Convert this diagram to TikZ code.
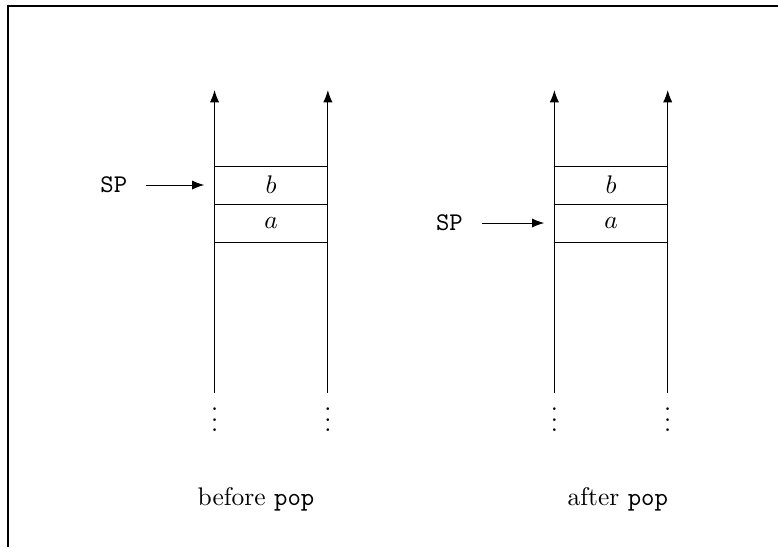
\documentclass[tikz,border=0pt]{standalone}
\usetikzlibrary{arrows.meta,positioning}
\begin{document}
\begin{tikzpicture}[>=Latex,
 cell/.style={draw,minimum width=1.563cm,minimum height=0.524cm,inner sep=0pt,outer sep=0pt},
 reg/.style={font=\ttfamily},
 ptr/.style={->,shorten <=4pt,shorten >=4pt},
 dots/.style={inner sep=0pt}]
\useasboundingbox (0,0) rectangle (10.73,7.545);
\draw[line width=0.8pt] (0.11,0) -- (0.11,7.462) -- (10.73,7.462);
% stack before pop
\node[cell] (b1) at (3.740,4.993) {$b$};
\node[cell,anchor=north] (a1) at (b1.south) {$a$};
\coordinate (l1bot) at (2.959,2.128); \coordinate (l1top) at (2.959,6.303);
\coordinate (r1bot) at (4.522,2.128); \coordinate (r1top) at (4.522,6.303);
\draw[->] (l1bot) -- (l1top); \draw[->] (r1bot) -- (r1top);
\node[dots] (dl1) at (2.959,1.86) {$\vdots$};
\node[dots] (dr1) at (4.522,1.86) {$\vdots$};
\node[reg,left=1.08cm of b1] (sp1) {SP};
\draw[ptr] (sp1) -- (b1);
\node (cap1) at (3.531,0.655) {before \texttt{pop}};
% stack after pop
\node[cell] (b2) at (8.428,4.993) {$b$};
\node[cell,anchor=north] (a2) at (b2.south) {$a$};
\coordinate (l2bot) at (7.646,2.128); \coordinate (l2top) at (7.646,6.303);
\coordinate (r2bot) at (9.209,2.128); \coordinate (r2top) at (9.209,6.303);
\draw[->] (l2bot) -- (l2top); \draw[->] (r2bot) -- (r2top);
\node[dots] (dl2) at (7.646,1.86) {$\vdots$};
\node[dots] (dr2) at (9.209,1.86) {$\vdots$};
\node[reg,left=1.14cm of a2] (sp2) {SP};
\draw[ptr] (sp2) -- (a2);
\node (cap2) at (8.52,0.655) {after \texttt{pop}};
\end{tikzpicture}
\end{document}
